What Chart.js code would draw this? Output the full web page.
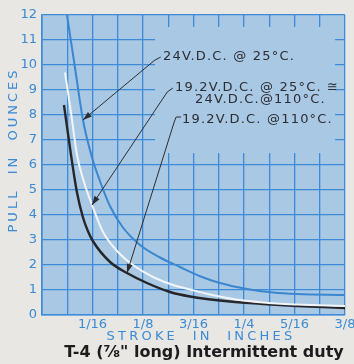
<!DOCTYPE html>
<html>
<head>
<meta charset="utf-8">
<script src="https://cdn.jsdelivr.net/npm/chart.js@4.4.1/dist/chart.umd.min.js"></script>
<style>
  html, body { margin: 0; padding: 0; background: #e8e7e3; }
  canvas { display: block; }
</style>
</head>
<body>
<canvas id="chart" width="354" height="364"></canvas>
<script>
// Stroke in inches, pull in ounces
// 24V.D.C. @ 25°C.
const blueStroke = [0.0309, 0.0408, 0.0507, 0.0619, 0.0718, 0.0842, 0.1002, 0.1213, 0.1460, 0.1708, 0.1955, 0.2203, 0.2537, 0.2859, 0.3156, 0.375];
const bluePull   = [12, 9.9, 7.8, 6.3, 5.35, 4.35, 3.5, 2.8, 2.3, 1.92, 1.55, 1.28, 1.04, 0.9, 0.84, 0.8];

// 19.2V.D.C. @ 25°C. ≅ 24V.D.C. @ 110°C.
const whiteStroke = [0.0285, 0.0359, 0.0433, 0.0507, 0.0619, 0.0755, 0.0941, 0.1126, 0.1374, 0.1621, 0.1832, 0.2079, 0.2327, 0.2735, 0.3156, 0.375];
const whitePull   = [9.7, 8.1, 6.4, 5.45, 4.4, 3.32, 2.52, 2.0, 1.52, 1.2, 1.02, 0.82, 0.66, 0.5, 0.42, 0.36];

// 19.2V.D.C. @ 110°C.
const blackStroke = [0.0272, 0.0359, 0.0433, 0.0507, 0.0569, 0.0631, 0.0842, 0.1052, 0.1299, 0.1584, 0.1832, 0.2327, 0.2735, 0.3156, 0.375];
const blackPull   = [8.4, 6.4, 4.9, 3.9, 3.35, 2.95, 2.12, 1.68, 1.28, 0.92, 0.74, 0.54, 0.44, 0.36, 0.28];

// x tick labels, one per 1/16 inch
const xTickLabels = ['', '1/16', '1/8', '3/16', '1/4', '5/16', '3/8'];

const PLOT_BG = '#a9c8e3';
const GRID = '#3d8bd8';
const AXIS_TEXT = '#3a8ad6';
const INK = '#2c2d33';
const FONT = '"DejaVu Sans", sans-serif';

// callout labels, in data units; curve/point pick the arrow's tip
const callouts = [
  { lines: ['24V.D.C. @ 25°C.'], at: [[0.1498, 10.32]],
    hook: [[0.1470, 10.32], [0.1390, 10.18]], curve: 0, point: 2 },
  { lines: ['19.2V.D.C. @ 25°C. ≅', '24V.D.C.@110°C.'], at: [[0.1646, 9.08], [0.1894, 8.6]],
    hook: [[0.1620, 9.08], [0.1550, 8.92]], curve: 1, point: 4 },
  { lines: ['19.2V.D.C. @110°C.'], at: [[0.1733, 7.8]],
    hook: [[0.1720, 7.92], [0.1660, 7.92], [0.1636, 7.72]], curve: 2, point: 7 }
];

// blank panel behind the callout text (grid is not printed there)
const labelPanel = { x: [0.140, 0.3627], y: [6.48, 11.52] };

const toPoints = (xs, ys) => xs.map((x, i) => ({ x: x, y: ys[i] }));

function arrowHead(ctx, fx, fy, tx, ty) {
  const ang = Math.atan2(ty - fy, tx - fx);
  const len = 9, half = 3;
  const bx = tx - len * Math.cos(ang), by = ty - len * Math.sin(ang);
  ctx.beginPath();
  ctx.moveTo(tx, ty);
  ctx.lineTo(bx + half * Math.sin(ang), by - half * Math.cos(ang));
  ctx.lineTo(bx - half * Math.sin(ang), by + half * Math.cos(ang));
  ctx.closePath();
  ctx.fill();
}

const sheetPlugin = {
  id: 'sheet',
  beforeDraw(chart) {
    const { ctx, chartArea: a } = chart;
    ctx.save();
    ctx.fillStyle = PLOT_BG;
    ctx.fillRect(a.left, a.top, a.right - a.left, a.bottom - a.top);
    ctx.restore();
  },
  beforeDatasetsDraw(chart) {
    const { ctx, scales: { x, y } } = chart;
    const l = x.getPixelForValue(labelPanel.x[0]), r = x.getPixelForValue(labelPanel.x[1]);
    const t = y.getPixelForValue(labelPanel.y[1]), b = y.getPixelForValue(labelPanel.y[0]);
    ctx.save();
    ctx.fillStyle = PLOT_BG;
    ctx.fillRect(l, t, r - l, b - t);
    ctx.restore();
  },
  afterDatasetsDraw(chart) {
    const { ctx, scales: { x, y } } = chart;
    ctx.save();
    ctx.strokeStyle = INK;
    ctx.fillStyle = INK;
    ctx.lineWidth = 1;
    callouts.forEach(c => {
      const tip = chart.data.datasets[c.curve].data[c.point];
      const pts = c.hook.map(p => [x.getPixelForValue(p[0]), y.getPixelForValue(p[1])]);
      const tx = x.getPixelForValue(tip.x), ty = y.getPixelForValue(tip.y);
      ctx.beginPath();
      ctx.moveTo(pts[0][0], pts[0][1]);
      pts.slice(1).forEach(p => ctx.lineTo(p[0], p[1]));
      ctx.lineTo(tx, ty);
      ctx.stroke();
      const last = pts[pts.length - 1];
      arrowHead(ctx, last[0], last[1], tx, ty);

      ctx.font = '13px ' + FONT;
      ctx.letterSpacing = '1.2px';
      ctx.textAlign = 'left';
      ctx.textBaseline = 'middle';
      c.lines.forEach((line, i) => {
        ctx.fillText(line, x.getPixelForValue(c.at[i][0]), y.getPixelForValue(c.at[i][1]));
      });
    });
    ctx.restore();
  },
  afterDraw(chart) {
    const { ctx } = chart;
    ctx.save();
    ctx.textAlign = 'center';
    ctx.textBaseline = 'middle';

    // axis titles, spaced out like the printed sheet
    ctx.fillStyle = AXIS_TEXT;
    ctx.font = '13px ' + FONT;
    ctx.letterSpacing = '3.2px';
    ctx.fillText('STROKE  IN  INCHES', 201, 337);

    ctx.save();
    ctx.translate(14, 150);
    ctx.rotate(-Math.PI / 2);
    ctx.letterSpacing = '3px';
    ctx.fillText('PULL  IN  OUNCES', 0, 0);
    ctx.restore();

    ctx.fillStyle = '#1c1c1e';
    ctx.letterSpacing = '0px';
    ctx.font = 'bold 16px ' + FONT;
    ctx.fillText('T-4 (⅞" long) Intermittent duty', 204, 353);
    ctx.restore();
  }
};

new Chart(document.getElementById('chart'), {
  type: 'line',
  data: {
    datasets: [
      { data: toPoints(blueStroke, bluePull), borderColor: '#3a87d0', borderWidth: 2 },
      { data: toPoints(whiteStroke, whitePull), borderColor: '#f2f5f8', borderWidth: 2 },
      { data: toPoints(blackStroke, blackPull), borderColor: '#25252a', borderWidth: 2.4 }
    ]
  },
  options: {
    responsive: false,
    animation: false,
    layout: { padding: { top: 15, right: 9, left: 0, bottom: 0 } },
    plugins: { legend: { display: false }, tooltip: { enabled: false } },
    elements: {
      point: { radius: 0 },
      line: { cubicInterpolationMode: 'monotone', fill: false }
    },
    scales: {
      x: {
        type: 'linear',
        min: 0,
        max: 0.375,
        grid: { color: GRID, lineWidth: 1.3, drawTicks: false },
        border: { color: GRID, width: 1.6 },
        ticks: {
          stepSize: 1 / 32,
          autoSkip: false,
          maxRotation: 0,
          padding: 2,
          color: AXIS_TEXT,
          font: { family: FONT, size: 13 },
          callback: v => {
            const n = Math.round(v * 32);
            return n % 2 ? '' : xTickLabels[n / 2];
          }
        },
        afterFit(s) { s.height = 49; s.paddingLeft = 0; s.paddingRight = 0; }
      },
      y: {
        type: 'linear',
        min: 0,
        max: 12,
        grid: { color: GRID, lineWidth: 1.3, drawTicks: false },
        border: { color: GRID, width: 1.6 },
        ticks: {
          stepSize: 1,
          padding: 5,
          color: AXIS_TEXT,
          font: { family: FONT, size: 13 }
        },
        afterFit(s) { s.width = 42; s.paddingTop = 0; s.paddingBottom = 0; }
      }
    }
  },
  plugins: [sheetPlugin]
});
</script>
</body>
</html>
